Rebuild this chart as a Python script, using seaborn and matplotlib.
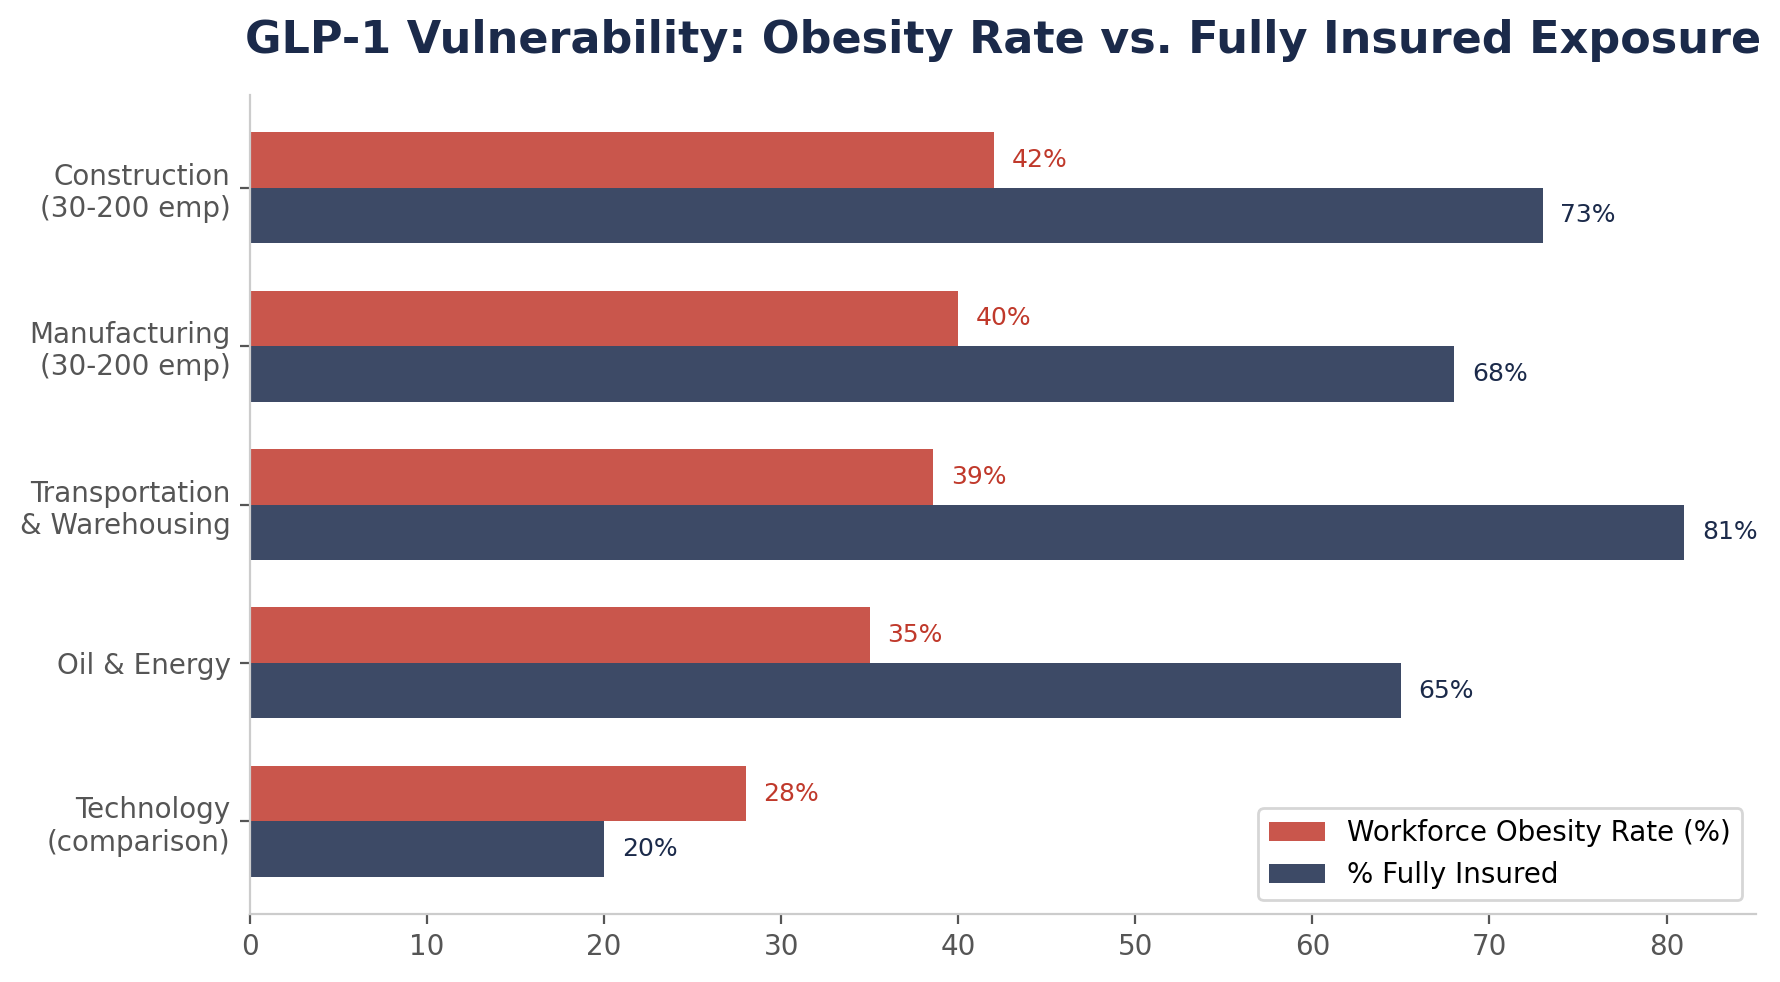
import pandas as pd
import seaborn as sns
import matplotlib.pyplot as plt

# Industries (top to bottom) and the two metrics
industries = [
    "Construction\n(30-200 emp)",
    "Manufacturing\n(30-200 emp)",
    "Transportation\n& Warehousing",
    "Oil & Energy",
    "Technology\n(comparison)",
]
obesity_rate = [42, 40, 38.6, 35, 28]
fully_insured = [73, 68, 81, 65, 20]
series_names = ["Workforce Obesity Rate (%)", "% Fully Insured"]
bar_colors = ["#C9564C", "#3D4A66"]
label_colors = ["#C0392B", "#1B2A4A"]

# Long-form table for seaborn
df = pd.DataFrame({
    "Industry": industries * 2,
    "Metric": [series_names[0]] * len(industries) + [series_names[1]] * len(industries),
    "Value": obesity_rate + fully_insured,
})

sns.set_style("white")
plt.rcParams["font.family"] = ["DejaVu Sans"]

fig, ax = plt.subplots(figsize=(8.9, 4.91), dpi=200)
fig.subplots_adjust(left=0.1404, right=0.9865, top=0.9033, bottom=0.0692)

sns.barplot(
    data=df, x="Value", y="Industry", hue="Metric", orient="h",
    hue_order=series_names, palette=bar_colors, width=0.7,
    saturation=1, linewidth=0, ax=ax, legend=True,
)

# Value labels next to each bar
for container, color in zip(ax.containers, label_colors):
    ax.bar_label(container, labels=[f"{v:.0f}%" for v in container.datavalues],
                 padding=6.4, fontsize=9, color=color)

ax.set_xlim(0, 85.05)
ax.set_ylim(4.585, -0.585)
ax.set_xlabel("")
ax.set_ylabel("")
ax.set_title("GLP-1 Vulnerability: Obesity Rate vs. Fully Insured Exposure",
             fontsize=16, fontweight="bold", color="#1B2A4A", pad=15)

sns.despine(ax=ax)
for side in ["left", "bottom"]:
    ax.spines[side].set_color("#CCCCCC")
ax.tick_params(axis="both", labelsize=10, colors="#555555",
               left=True, bottom=True, length=3.5, width=0.8)

leg = ax.legend(loc="lower right", fontsize=10, frameon=True)
leg.get_frame().set_edgecolor("#CCCCCC")
for txt in leg.get_texts():
    txt.set_color("black")

fig.savefig("out.png", dpi=200)
